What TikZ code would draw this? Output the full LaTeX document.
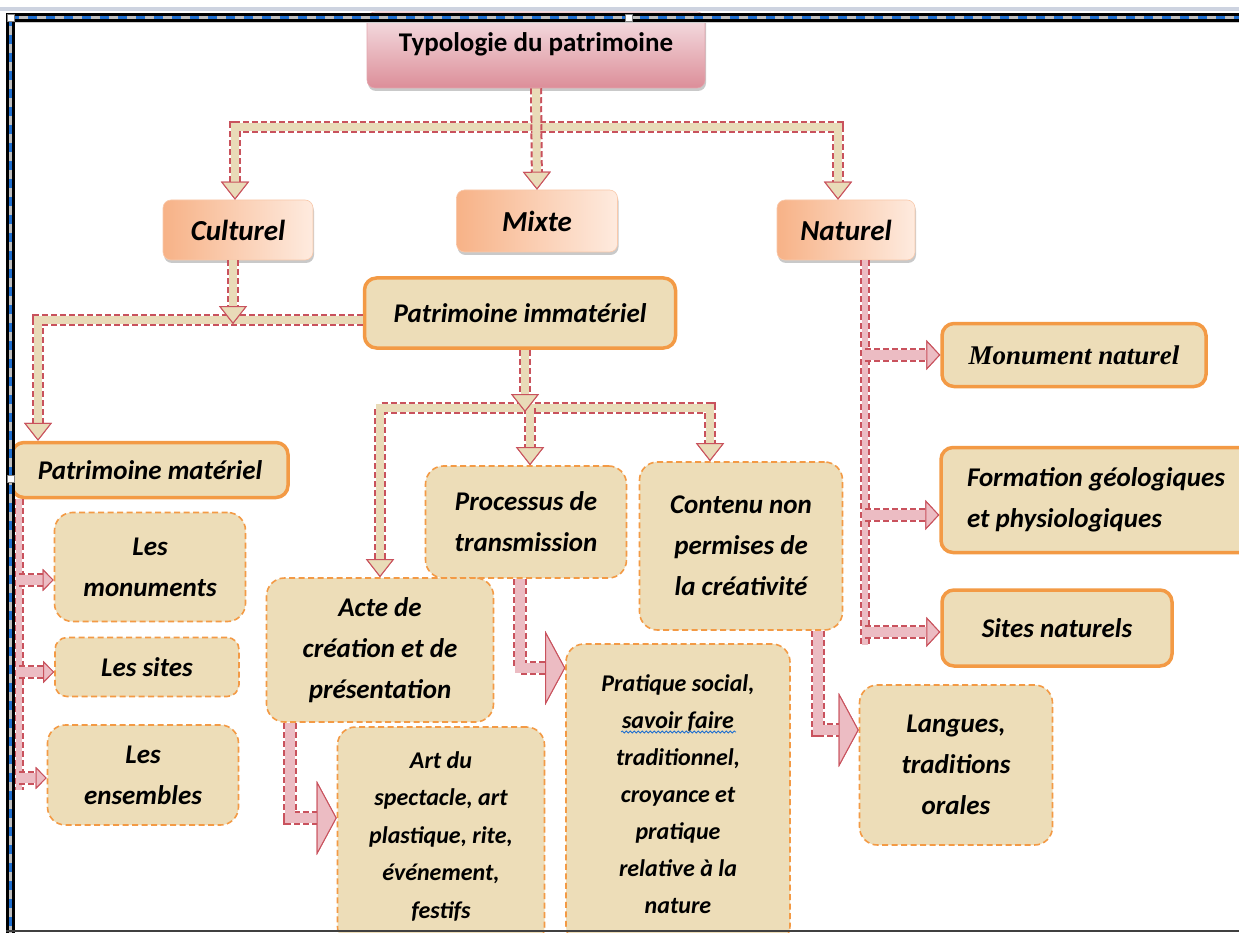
\documentclass[tikz,border=0pt]{standalone}
\usepackage{fontspec}
\setmainfont{Carlito}
\newfontfamily\timesf{Liberation Serif}
\usetikzlibrary{arrows.meta,shadows,calc,decorations.pathmorphing}
\definecolor{bred}{HTML}{C9525D}
\definecolor{bbeige}{HTML}{E9DBB8}
\definecolor{bpink}{HTML}{ECBCC3}
\definecolor{parch}{HTML}{EDDDB8}
\definecolor{orng}{HTML}{F39A45}
\definecolor{peachD}{HTML}{F7B287}
\definecolor{peachL}{HTML}{FEEBDF}
\definecolor{pinkD}{HTML}{DC8E99}
\definecolor{pinkL}{HTML}{F6E3E6}
\definecolor{fblue}{HTML}{1F6FD0}
\definecolor{fgray}{HTML}{CDD3E0}
\begin{document}
\begin{tikzpicture}[x=1pt,y=-1pt,
  lbl/.style={font=\bfseries\itshape\fontsize{27}{41}\selectfont, align=center, inner sep=0pt},
  box/.style={lbl, fill=parch, rounded corners=12pt},
  solidbox/.style={box, draw=orng, line width=3.5pt},
  dashbox/.style={box, draw=orng, line width=1.6pt, dash pattern=on 6pt off 3.5pt, rounded corners=18pt},
  catbox/.style={lbl, font=\bfseries\itshape\fontsize{29}{34}\selectfont, rounded corners=8pt, left color=peachD, right color=peachL, draw=peachD!70!white, line width=0.6pt,
     drop shadow={shadow xshift=1pt, shadow yshift=-3pt, opacity=0.35, fill=black!60}},
  titlebox/.style={rounded corners=8pt, top color=pinkL, bottom color=pinkD, draw=pinkD!80!white, line width=0.6pt,
     drop shadow={shadow xshift=1pt, shadow yshift=-3pt, opacity=0.35, fill=black!60}, inner sep=0pt},
  bandA/.style={preaction={draw=bred, line width=12pt, dash pattern=on 6pt off 3pt}, draw=bbeige, line width=8pt, line join=miter},
  bandP/.style={preaction={draw=bred, line width=14pt, dash pattern=on 6pt off 3pt}, draw=bpink, line width=10pt, line join=miter},
  bandT/.style={preaction={draw=bred, line width=10pt, dash pattern=on 6pt off 3pt}, draw=bpink, line width=6.5pt, line join=miter},
  ahA/.style={arrows={-Triangle[width=28pt,length=18pt,fill=bbeige,color=bred,line width=1pt]}},
  ahAA/.style={arrows={Triangle[width=28pt,length=18pt,fill=bbeige,color=bred,line width=1pt]-Triangle[width=28pt,length=18pt,fill=bbeige,color=bred,line width=1pt]}},
  ahP/.style={arrows={-Triangle[width=30pt,length=14pt,fill=bpink,color=bred,line width=1pt]}},
  ahS/.style={arrows={-Triangle[width=22pt,length=11pt,fill=bpink,color=bred,line width=1pt]}},
  ahB/.style={arrows={-Triangle[width=74pt,length=20pt,fill=bpink,color=bred,line width=1pt]}}
]
\useasboundingbox (0,0) rectangle (1239,933);
\clip (0,0) rectangle (1239,933);
\fill[white] (0,0) rectangle (1239,933);

% ---------- nodes ----------
\node[titlebox, minimum width=338pt, text height=40pt, text depth=36pt,
      font=\bfseries\fontsize{27}{32}\selectfont] (title) at (536,50) {Typologie du patrimoine};
\node[catbox, minimum width=150pt, minimum height=60pt] (cult) at (238,230) {Culturel};
\node[catbox, minimum width=161pt, minimum height=62pt] (mix) at (537,221) {Mixte};
\node[catbox, minimum width=138pt, minimum height=60pt] (nat) at (846,230) {Naturel};

\node[solidbox, minimum width=311pt, minimum height=70pt] (pim) at (520,313) {Patrimoine immatériel};
\node[solidbox, minimum width=276pt, minimum height=55pt] (pmat) at (150,470) {Patrimoine matériel};
\node[solidbox, minimum width=264pt, minimum height=63pt, font=\timesf\bfseries\itshape\fontsize{27}{32}\selectfont] (monn) at (1074,355) {Monument naturel};
\node[solidbox, minimum height=105pt, minimum width=310pt, align=left] (form) at (1096,500) {Formation géologiques\\et physiologiques};
\node[solidbox, minimum width=230pt, minimum height=76pt] (sitn) at (1057,628) {Sites naturels};

\node[dashbox, minimum width=191pt, minimum height=109pt] (lmon) at (150,567) {Les\\monuments};
\node[dashbox, minimum width=184pt, minimum height=59pt, rounded corners=12pt] (lsit) at (147,667) {Les sites};
\node[dashbox, minimum width=191pt, minimum height=100pt] (lens) at (143,775) {Les\\ensembles};

\node[dashbox, minimum width=201pt, minimum height=112pt] (proc) at (526,522) {Processus de\\transmission};
\node[dashbox, minimum width=203pt, minimum height=168pt] (cont) at (741,546) {Contenu non\\permises de\\la créativité};
\node[dashbox, minimum width=227pt, minimum height=144pt] (acte) at (380,650) {Acte de\\création et de\\présentation};
\node[dashbox, minimum width=207pt, minimum height=218pt, font=\bfseries\itshape\fontsize{24}{37.5}\selectfont] (art) at (441,836)
   {Art du\\spectacle, art\\plastique, rite,\\événement,\\festifs};
\node[dashbox, minimum width=224pt, minimum height=300pt, font=\bfseries\itshape\fontsize{24}{37}\selectfont] (prat) at (678,794)
   {Pratique social,\\savoir faire\\traditionnel,\\croyance et\\pratique\\relative à la\\nature};
\node[dashbox, minimum width=193pt, minimum height=160pt] (lang) at (956,765) {Langues,\\traditions\\orales};
\draw[fblue, line width=0.8pt, decorate, decoration={snake, amplitude=1pt, segment length=4pt}] (621,732) -- (736,732);

% ---------- connectors ----------
\coordinate (j1) at (536,127);
\draw[bandA, ahAA] ($(cult.north)+(-3,0)$) -- ($(cult.north |- j1)+(-3,0)$) -- ($(nat.north |- j1)+(-8,0)$) -- ($(nat.north)+(-8,0)$);
\draw[bandA, ahA] (title.south) -- (mix.north);

\coordinate (j2) at (38,320);
\draw[bandA, ahA] (pim.west |- j2) -- (j2) -- (j2 |- pmat.north);
\draw[bandA, ahA] ($(cult.south)+(-5,0)$) -- ($(cult.south |- j2)+(-5,4)$);

\coordinate (j3) at (525,408);
\coordinate (j3b) at (710,408);
\draw[bandA, ahAA] (acte.north) -- (acte.north |- j3) -- (j3b) -- (j3b |- cont.north);
\draw[bandA, ahA] ($(proc.north |- j3)+(4,0)$) -- ($(proc.north)+(4,0)$);
\draw[bandA, ahA] ($(pim.south)+(5,0)$) -- ($(pim.south |- j3)+(5,4)$);

\coordinate (n1) at (865,645);
\draw[bandT] (nat.south -| n1) -- (n1);
\draw[bandP, ahP] (n1 |- monn.west) -- (monn.west);
\coordinate (f1) at (865,515);
\draw[bandP, ahP] (f1) -- (form.west |- f1);
\draw[bandP, ahP] ($(n1 |- sitn.west)+(0,4)$) -- ($(sitn.west)+(0,4)$);

\coordinate (m1) at (19,790);
\draw[bandT] (pmat.south -| m1) -- (m1);
\coordinate (m2) at (19,580);
\draw[bandP, ahS] (m2) -- (lmon.west |- m2);
\draw[bandP, ahS] ($(m1 |- lsit.west)+(0,5)$) -- ($(lsit.west)+(0,5)$);
\draw[bandP, ahS] ($(m1 |- lens.west)+(0,3)$) -- ($(lens.west)+(0,3)$);

\coordinate (b1) at (290,818);
\draw[bandP, ahB] (acte.south -| b1) -- (b1) -- (art.west |- b1);
\coordinate (b2) at (520,668);
\draw[bandP, ahB] (proc.south -| b2) -- (b2) -- (prat.west |- b2);
\coordinate (b3) at (818,730);
\draw[bandP, ahB] (cont.south -| b3) -- (b3) -- (lang.west |- b3);

% ---------- window frame ----------
\fill[fgray] (0,7) rectangle (1239,11);
\fill[black] (6,13) rectangle (1239,22);
\draw[black!25, line width=3pt] (10,17.5) -- (1239,17.5);
\draw[fblue, line width=3pt, dash pattern=on 9pt off 9pt] (10,17.5) -- (1239,17.5);
\fill[black] (6,13) rectangle (15,933);
\draw[black!25, line width=3pt] (10.5,17) -- (10.5,933);
\draw[fblue, line width=3pt, dash pattern=on 9pt off 9pt] (10.5,17) -- (10.5,933);
\draw[black!75, line width=2pt] (6,931) -- (1239,931);
\draw[black!20, line width=1pt] (15,23) -- (1239,23);
\filldraw[fill=white, draw=black!50, line width=0.5pt] (7,14) rectangle (14,21);
\filldraw[fill=white, draw=black!50, line width=0.5pt] (625,14) rectangle (632,21);
\filldraw[fill=white, draw=black!50, line width=0.5pt] (7,475) rectangle (14,482);
\end{tikzpicture}
\end{document}
